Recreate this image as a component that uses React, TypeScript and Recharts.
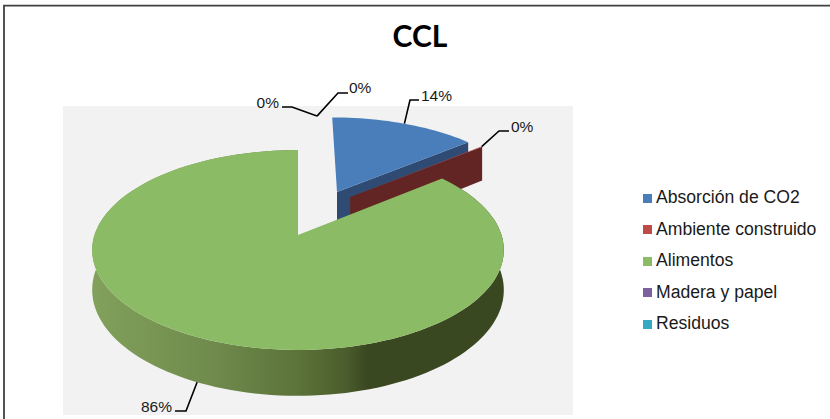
import React from 'react';
import { PieChart, Pie, Legend } from 'recharts';

const categories = ['Absorción de CO2', 'Ambiente construido', 'Alimentos', 'Madera y papel', 'Residuos'];
const shares = [14, 0.1, 85.9, 0, 0];
const topColors = ['#4a7ebb', '#be4b48', '#8cbb65', '#7d60a0', '#37a9c4'];
const wallColors = ['#2f4b73', '#632523', '#5d7a3c', '#4a3a63', '#1f6577'];

// how far each slice is pulled out of the pie, in radii
const explode: Record<string, [number, number]> = {
    'Absorción de CO2': [0.205, -0.47],
    'Ambiente construido': [0.272, -0.413],
    Alimentos: [0, 0],
    'Madera y papel': [0.114, -0.489],
    Residuos: [0.114, -0.489],
};

// leader line elbows and text anchors for the percentage labels
const leaders: Record<string, { elbow: number[][]; x: number; y: number; anchor: 'start' | 'end' }> = {
    'Absorción de CO2': { elbow: [[410, 100], [419, 100]], x: 421, y: 101, anchor: 'start' },
    'Ambiente construido': { elbow: [[499, 131], [509, 131]], x: 511, y: 132, anchor: 'start' },
    Alimentos: { elbow: [[186, 411], [175, 411]], x: 172, y: 412, anchor: 'end' },
    'Madera y papel': { elbow: [[338, 93], [348, 93]], x: 349, y: 93, anchor: 'start' },
    Residuos: { elbow: [[292, 107], [282, 107]], x: 279, y: 108, anchor: 'end' },
};

const tableData = categories.map((name, i) => ({ name, value: shares[i], fill: topColors[i] }));

const CX = 298;
const CY = 235;
const RADIUS = 203.5;
const SQUASH = 0.48;
const TILT = 0.15;
const DEPTH = 39;
const FONT = '"Liberation Sans", Arial, sans-serif';

// perspective projection of a point on the unit disc
const project = (u: number, v: number, cx: number, cy: number, r: number, drop = 0) => {
    const w = 1 - TILT * v;
    return [cx + (r * u) / w, cy + (r * SQUASH * v) / w + drop / w];
};

const toXY = (angle: number) => {
    const rad = (angle * Math.PI) / 180;
    return [Math.cos(rad), -Math.sin(rad)];
};

const path = (pts: number[][]) => 'M' + pts.map((p) => `${p[0].toFixed(1)},${p[1].toFixed(1)}`).join('L') + 'Z';

const Slice = (props: any) => {
    const { cx, cy, outerRadius, startAngle, endAngle, name, fill } = props;
    if (startAngle === endAngle) return null;
    const [ox, oy] = explode[name];
    const sweep = Math.abs(endAngle - startAngle);
    const steps = Math.max(2, Math.ceil(sweep / 2));
    const rim: number[][] = [];
    for (let i = 0; i <= steps; i++) {
        const [u, v] = toXY(startAngle + ((endAngle - startAngle) * i) / steps);
        rim.push([ox + u, oy + v]);
    }
    const top = (p: number[]) => project(p[0], p[1], cx, cy, outerRadius);
    const low = (p: number[]) => project(p[0], p[1], cx, cy, outerRadius, DEPTH);
    const apex = [ox, oy];
    const last = rim[rim.length - 1];
    const index = categories.indexOf(name);
    return (
        <g>
            {/* the outer wall only shows on the big slice that reaches the front */}
            {sweep > 180 && <path d={path([...rim.map(low), ...[...rim].reverse().map(top)])} fill="url(#greenWall)" />}
            <path d={path([top(apex), top(last), low(last), low(apex)])} fill={wallColors[index]} />
            <path d={path([top(apex), ...rim.map(top)])} fill={fill} />
        </g>
    );
};

const SliceLabel = (props: any) => {
    const { cx, cy, outerRadius, startAngle, endAngle, name, percent } = props;
    const [ox, oy] = explode[name];
    const [u, v] = toXY((startAngle + endAngle) / 2);
    // labels on the front of the pie hang from the bottom of the wall
    const start = project(ox + u, oy + v, cx, cy, outerRadius, v > 0 ? DEPTH : 0);
    const { elbow, x, y, anchor } = leaders[name];
    const line = [start, ...elbow].map((p) => p.join(',')).join(' ');
    return (
        <g>
            <polyline points={line} fill="none" stroke="#000" strokeWidth={1.6} />
            <text x={x} y={y} textAnchor={anchor} fontFamily={FONT} fontSize={15.5} fill="#1a1a1a">
                {`${Math.round(percent * 100)}%`}
            </text>
        </g>
    );
};

export default function App() {
    return (
        <div style={{ position: 'absolute', left: 0, top: 0, width: 830, height: 419, background: '#fff' }}>
            <PieChart width={830} height={419} margin={{ top: 0, right: 0, bottom: 0, left: 0 }}>
                <defs>
                    <linearGradient id="greenWall" gradientUnits="userSpaceOnUse" x1={91} y1={0} x2={503} y2={0}>
                        <stop offset="0" stopColor="#82a15c" />
                        <stop offset="0.3" stopColor="#6f8a4c" />
                        <stop offset="0.5" stopColor="#5c7339" />
                        <stop offset="0.62" stopColor="#4a5d2c" />
                        <stop offset="0.67" stopColor="#3a4822" />
                        <stop offset="1" stopColor="#3a4821" />
                    </linearGradient>
                </defs>
                <path d="M4,419V5.7H830" fill="none" stroke="#404040" strokeWidth={1.8} />
                <rect x={63} y={106} width={510} height={309} fill="#f2f2f2" />
                <text x={420} y={47} textAnchor="middle" fontFamily="Lato, sans-serif" fontWeight={700} fontSize={30} fill="#000">
                    CCL
                </text>
                <Pie
                    data={tableData}
                    dataKey="value"
                    nameKey="name"
                    cx={CX}
                    cy={CY}
                    outerRadius={RADIUS}
                    startAngle={90}
                    endAngle={-270}
                    stroke="none"
                    isAnimationActive={false}
                    shape={Slice}
                    inactiveShape={Slice}
                    label={SliceLabel}
                    labelLine={false}
                />
                <Legend
                    layout="vertical"
                    align="right"
                    verticalAlign="top"
                    iconType="square"
                    iconSize={9}
                    itemSorter={null}
                    wrapperStyle={{ left: 643, top: 182, width: 187, lineHeight: '31.5px', fontFamily: FONT, fontSize: 17.6 }}
                    formatter={(value: string) => <span style={{ color: '#1a1a1a' }}>{value}</span>}
                />
            </PieChart>
        </div>
    );
}
